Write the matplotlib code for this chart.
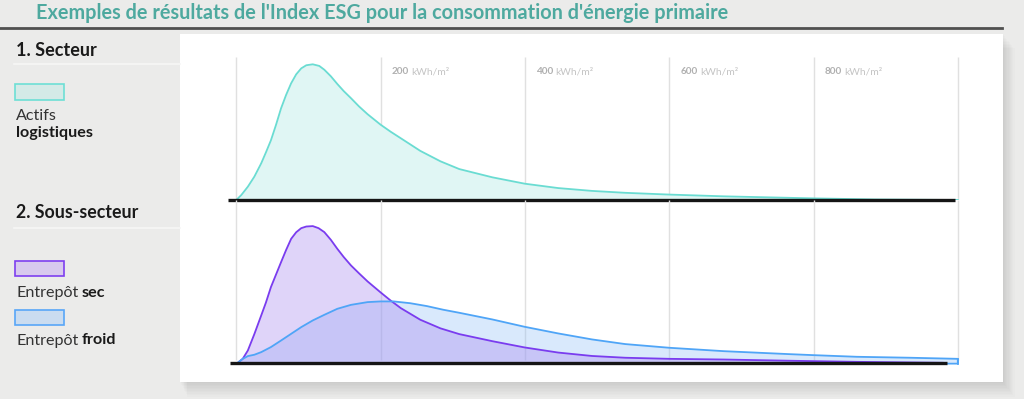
import matplotlib
matplotlib.use("Agg")
import matplotlib.pyplot as plt
from matplotlib.patches import Rectangle

plt.rcParams['font.family'] = ['Lato', 'DejaVu Sans']

# ---------------- data ----------------
title = "Exemples de résultats de l'Index ESG pour la consommation d'énergie primaire"
tick_values = [200, 400, 600, 800]
grid_values = [0, 200, 400, 600, 800, 1000]
tick_unit = "kWh/m²"

kwh_logistique = [0, 7, 16, 25, 34.5, 41, 48, 55, 62, 69, 76, 83, 90, 97, 106, 115, 122, 131,
                  140, 149, 159, 170, 182, 200, 214, 228, 255, 283, 309, 355, 400, 446, 493,
                  539, 600, 676, 800, 885, 1000]
dens_logistique = [0, 0.037, 0.098, 0.172, 0.27, 0.35, 0.44, 0.553, 0.675, 0.774, 0.86, 0.926,
                   0.97, 0.993, 1.0, 0.988, 0.96, 0.912, 0.855, 0.802, 0.75, 0.69, 0.632,
                   0.555, 0.503, 0.455, 0.362, 0.285, 0.228, 0.167, 0.12, 0.088, 0.067, 0.053,
                   0.04, 0.027, 0.012, 0.004, 0.0]

kwh_sec = [2, 9, 16, 25, 34.5, 41, 48, 55, 62, 69, 76, 83, 90, 97, 106, 114, 122, 131, 140, 149,
           159, 170, 182, 200, 214, 228, 255, 283, 309, 355, 400, 446, 493, 539, 600, 676,
           768, 860, 979]
dens_sec = [0, 0.03, 0.09, 0.21, 0.346, 0.44, 0.554, 0.645, 0.736, 0.825, 0.907, 0.955, 0.985,
            0.997, 1.0, 0.985, 0.956, 0.9, 0.834, 0.773, 0.712, 0.655, 0.595, 0.515, 0.455,
            0.4, 0.315, 0.252, 0.21, 0.158, 0.112, 0.075, 0.05, 0.037, 0.029, 0.024, 0.015,
            0.007, 0.0]

kwh_froid = [2, 9, 16, 25, 34.5, 48, 62, 76, 90, 106, 122, 140, 159, 182, 200, 218, 241, 264,
             287, 309, 355, 400, 446, 493, 539, 600, 676, 768, 800, 860, 934, 1000]
dens_froid = [0, 0.029, 0.049, 0.059, 0.078, 0.115, 0.163, 0.212, 0.261, 0.31, 0.351, 0.395,
              0.424, 0.444, 0.449, 0.449, 0.436, 0.415, 0.388, 0.366, 0.317, 0.263, 0.215,
              0.171, 0.137, 0.11, 0.085, 0.063, 0.056, 0.044, 0.037, 0.029]

# ---------------- layout helpers ----------------
W, H = 1024, 399
BG = '#ebebea'
fig = plt.figure(figsize=(W / 100, H / 100), dpi=100, facecolor=BG)


def fx(px):
    return px / W


def fy(py):
    return 1 - py / H


# title and rule
fig.text(fx(36), fy(13), title, color='#4ea99f', fontsize=14.3, fontweight='bold',
         va='center', ha='left')
fig.add_artist(plt.Line2D([0, fx(1002)], [fy(27.5), fy(27.5)], color='#505050', lw=2.0))

# panel shadow + panel
PX0, PY0, PX1, PY1 = 180, 33.5, 1003, 382.3
for i in range(10):
    off = 1 + i * 1.5
    fig.add_artist(Rectangle((fx(PX0 + off * 0.5), fy(PY1 + off)), fx(PX1 - PX0 + off * 0.3),
                             (PY1 - PY0) / H, transform=fig.transFigure, facecolor='black',
                             alpha=0.012, edgecolor='none', zorder=-2))
fig.add_artist(Rectangle((fx(PX0), fy(PY1)), fx(PX1 - PX0), (PY1 - PY0) / H,
                         transform=fig.transFigure, facecolor='white', edgecolor='none',
                         zorder=-1))

# left legend column
fig.text(fx(16), fy(50), "1. Secteur", fontsize=13, fontweight='bold', color='#1a1a1a',
         va='center')
fig.add_artist(plt.Line2D([fx(14), fx(180)], [fy(64), fy(64)], color='#f6f6f6', lw=1.2))
fig.text(fx(16), fy(213), "2. Sous-secteur", fontsize=12.8, fontweight='bold', color='#1a1a1a',
         va='center')
fig.add_artist(plt.Line2D([fx(14), fx(180)], [fy(227.5), fy(227.5)], color='#f6f6f6', lw=1.2))


def box(y0, face, edge):
    fig.add_artist(Rectangle((fx(14.5), fy(y0 + 15.5)), fx(49), 15 / H, transform=fig.transFigure,
                             facecolor=face, edgecolor=edge, lw=1.2))


box(84, '#d4eae7', '#6ddfd5')
box(260, '#d8c9ee', '#7e3ff0')
box(309.5, '#cadcf0', '#58a6f8')

FS = 11.6
fig.text(fx(16), fy(115.5), "Actifs", fontsize=FS, color='#333333', va='center')
fig.text(fx(16), fy(132.5), "logistiques", fontsize=FS, fontweight='bold', color='#1a1a1a',
         va='center')
t1 = fig.text(fx(16), fy(293), "Entrepôt", fontsize=FS, color='#333333', va='center')
fig.text(fx(16), fy(340.5), "Entrepôt", fontsize=FS, color='#333333', va='center')
fig.canvas.draw()
r = fig.canvas.get_renderer()
wpx = t1.get_window_extent(r).width + 3.5
fig.text(fx(16 + wpx), fy(293), "sec", fontsize=FS, fontweight='bold', color='#1a1a1a',
         va='center')
fig.text(fx(16 + wpx), fy(340.5), "froid", fontsize=FS, fontweight='bold', color='#1a1a1a',
         va='center')

# ---------------- chart axes ----------------
X0, PPK = 236.3, 0.7215          # pixel of 0 kWh, pixels per kWh
XMIN, XMAX = -15, 1010
left_px = X0 + XMIN * PPK
right_px = X0 + XMAX * PPK

top_base, top_top = 200.0, 57.0
bot_base, bot_top = 362.8, 200.0

ax1 = fig.add_axes([fx(left_px), fy(top_base), fx(right_px - left_px), (top_base - top_top) / H])
ax2 = fig.add_axes([fx(left_px), fy(bot_base), fx(right_px - left_px), (bot_base - bot_top) / H])
for ax in (ax1, ax2):
    ax.set_xlim(XMIN, XMAX)
    ax.axis('off')
    ax.patch.set_alpha(0)
    ax.set_zorder(2)
ax1.set_ylim(0, (top_base - top_top) / 135.7)
ax2.set_ylim(0, (bot_base - bot_top) / 136.7)

GRID = '#e0e0e0'
ax1.vlines(grid_values, 0, ax1.get_ylim()[1], color=GRID, lw=1, zorder=0)
ax2.vlines(grid_values, 0.02, ax2.get_ylim()[1], color=GRID, lw=1, zorder=0)

# top: logistics
ax1.fill_between(kwh_logistique, 0, dens_logistique, color='#e0f6f4', lw=0, zorder=1)
ax1.plot(kwh_logistique, dens_logistique, color='#6adcd2', lw=1.3, zorder=3)
ax1.hlines(0, -11.5, 996, color='#151515', lw=2.4, zorder=4, clip_on=False)

# bottom: sec / froid
ax2.fill(kwh_froid + [kwh_froid[-1]], dens_froid + [0], facecolor='#8dbdf6', alpha=0.33,
         edgecolor='none', zorder=1)
ax2.fill(kwh_sec, dens_sec, facecolor='#a684f0', alpha=0.35, edgecolor='none', zorder=2)
ax2.plot(kwh_sec, dens_sec, color='#7a3cef', lw=1.3, zorder=3)
ax2.plot(kwh_froid + [kwh_froid[-1], 962], dens_froid + [-0.006, -0.006], color='#4fa5f7',
         lw=1.3, zorder=3, clip_on=False)
ax2.hlines(0, -9, 985, color='#151515', lw=2.4, zorder=4, clip_on=False)
ax2.plot([kwh_froid[-1], kwh_froid[-1]], [-0.006, dens_froid[-1]], color='#4fa5f7', lw=1.3,
         zorder=5, clip_on=False)

# tick labels
for v in tick_values:
    tn = ax1.annotate(str(v), xy=(v, ax1.get_ylim()[1]), xytext=(11, -15),
                      textcoords='offset pixels', fontsize=7.2, fontweight='bold',
                      color='#b0b0b0', va='center', ha='left')
    ax1.annotate(tick_unit, xy=(1, 0.5), xycoords=tn, xytext=(2.5, 0),
                 textcoords='offset pixels', fontsize=7.4, color='#c4c4c4', va='center', ha='left')

fig.savefig('out.png', dpi=100, facecolor=BG)
